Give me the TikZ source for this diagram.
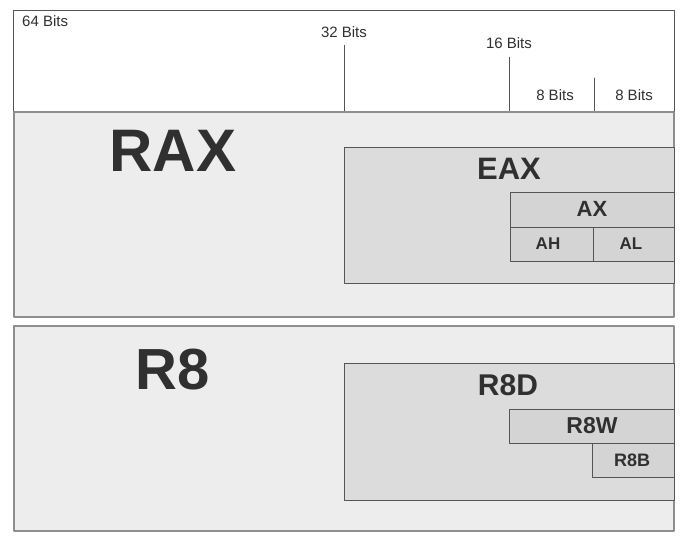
\documentclass[tikz,border=0pt]{standalone}
\usepackage{fontspec}
\setmainfont{Liberation Sans}
\definecolor{regfill}{HTML}{EDEDED}
\definecolor{subfill}{HTML}{DCDCDC}
\definecolor{partfill}{HTML}{D4D4D4}
\definecolor{regline}{HTML}{8E8E8E}
\definecolor{subline}{HTML}{555555}
\definecolor{txtgray}{HTML}{303030}
\tikzset{
	box/.style={draw, anchor=north west, inner sep=0pt, outer sep=0pt},
	regbox/.style={box, fill=regfill, draw=regline, line width=1.2pt},
	subbox/.style={box, fill=subfill, draw=subline, line width=0.9pt},
	partbox/.style={box, fill=partfill, draw=subline, line width=0.9pt},
	bits/.style={anchor=base, inner sep=0pt, text=txtgray, font=\fontsize{15}{17}\selectfont},
	lbl/.style={anchor=base, inner sep=0pt, text=txtgray, font=\bfseries\fontsize{#1}{#1}\selectfont}
}
\begin{document}
\begin{tikzpicture}[x=1pt, y=-1pt, line join=round, line cap=round]
	\useasboundingbox (0,0) rectangle (685,538);
	% kopf mit bitbreiten
	\node[box, draw=subline, line width=1pt, fill=white, minimum width=661pt, minimum height=102pt] (hdr) at (13,10) {};
	\path
	(22,26) node[bits, anchor=base west] (b64) {64 Bits}
	(344,37) node[bits] (b32) {32 Bits}
	(509,48) node[bits] (b16) {16 Bits}
	(555,100) node[bits] (b8h) {8 Bits}
	(634,100) node[bits] (b8l) {8 Bits};
	\coordinate (t8) at (594,78);
	\draw[subline, line width=0.8pt]
	([yshift=-8pt]b32.south) -- (b32.south |- hdr.south)
	([yshift=-9pt]b16.south) -- (b16.south |- hdr.south)
	(t8) -- (t8 |- hdr.south);
	% rax
	\node[regbox, minimum width=660pt, minimum height=205pt] (rax) at (14,112) {};
	\node[subbox, minimum width=330pt, minimum height=136pt] (eax) at (344,147) {};
	\node[partbox, minimum width=164pt, minimum height=35pt] (ax) at (510,192) {};
	\node[partbox, minimum width=83pt, minimum height=34pt] (ah) at (510,227) {};
	\node[partbox, minimum width=81pt, minimum height=34pt] (al) at (593,227) {};
	\path
	(173,171) node[lbl=60] (raxt) {RAX}
	(509,179) node[lbl=31] (eaxt) {EAX}
	(592,216) node[lbl=22] (axt) {AX}
	(548,249) node[lbl=17] (aht) {AH}
	(631,249) node[lbl=17] (alt) {AL};
	% r8
	\node[regbox, minimum width=660pt, minimum height=205pt] (r8) at (14,326) {};
	\node[subbox, minimum width=330pt, minimum height=137pt] (r8d) at (344,363) {};
	\node[partbox, minimum width=165pt, minimum height=34pt] (r8w) at (509,409) {};
	\node[partbox, minimum width=82pt, minimum height=34pt] (r8b) at (592,443) {};
	\path
	(173,389) node[lbl=58] (r8t) {R8}
	(508,395) node[lbl=30] (r8dt) {R8D}
	(592,433) node[lbl=23] (r8wt) {R8W}
	(632,466) node[lbl=18] (r8bt) {R8B};
\end{tikzpicture}
\end{document}
